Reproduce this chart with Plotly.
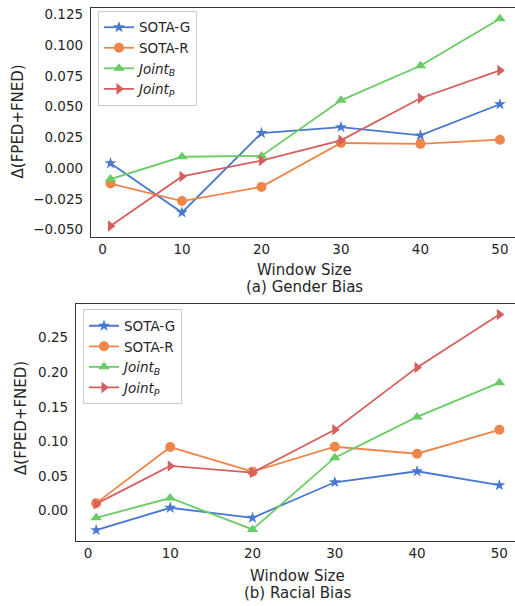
import plotly.graph_objects as go

window = [1, 10, 20, 30, 40, 50]
series_names = ["SOTA-G", "SOTA-R", "<i>Joint<sub>B</sub></i>", "<i>Joint<sub>P</sub></i>"]

gender_sota_g = [0.004, -0.036, 0.0286, 0.0334, 0.0267, 0.052]
gender_sota_r = [-0.0125, -0.0267, -0.0152, 0.0205, 0.0198, 0.0232]
gender_joint_b = [-0.0088, 0.0093, 0.0100, 0.0552, 0.0833, 0.1216]
gender_joint_p = [-0.047, -0.0067, 0.0062, 0.0227, 0.0569, 0.0795]

racial_sota_g = [-0.0284, 0.0039, -0.0106, 0.0408, 0.0567, 0.0365]
racial_sota_r = [0.0106, 0.0918, 0.0562, 0.0922, 0.0821, 0.1167]
racial_joint_b = [-0.0106, 0.0180, -0.0274, 0.0764, 0.1354, 0.1849]
racial_joint_p = [0.0095, 0.0644, 0.0548, 0.1167, 0.2070, 0.2834]

gender_ticks = [-0.050, -0.025, 0.000, 0.025, 0.050, 0.075, 0.100, 0.125]
racial_ticks = [0.00, 0.05, 0.10, 0.15, 0.20, 0.25]
x_ticks = [0, 10, 20, 30, 40, 50]

colors = ["#4878d0", "#ee854a", "#6acc64", "#d65f5f"]
symbols = ["star", "circle", "triangle-up", "triangle-right"]
msizes = [9, 10, 10, 10]

W, H = 515, 606
FONT = "DejaVu Sans"

fig = go.Figure()

def add_series(data, xa, ya, leg):
    for i, ys in enumerate(data):
        fig.add_trace(go.Scatter(
            x=window, y=ys, mode="lines+markers", name=series_names[i],
            xaxis=xa, yaxis=ya, legend=leg,
            line=dict(color=colors[i], width=1.8),
            marker=dict(symbol=symbols[i], size=msizes[i], color=colors[i],
                        line=dict(width=0)),
        ))

add_series([gender_sota_g, gender_sota_r, gender_joint_b, gender_joint_p], "x", "y", "legend")
add_series([racial_sota_g, racial_sota_r, racial_joint_b, racial_joint_p], "x2", "y2", "legend2")

axis_common = dict(showgrid=False, zeroline=False, showline=True, linecolor="#333333",
                   linewidth=1.3, ticks="", tickfont=dict(family=FONT, size=13.5, color="#262626"))

fig.update_layout(
    width=W, height=H, plot_bgcolor="white", paper_bgcolor="white",
    margin=dict(l=0, r=0, t=0, b=0),
    font=dict(family=FONT, color="#262626"),
    xaxis=dict(domain=[91 / W, 1], anchor="y", range=[-1.45, 51.9],
               tickvals=x_ticks, mirror=True, **axis_common),
    yaxis=dict(domain=[1 - 236 / H, 1 - 6 / H], anchor="x", range=[-0.0558, 0.1303],
               tickvals=gender_ticks, tickformat=".3f", ticklabelstandoff=4, **axis_common),
    xaxis2=dict(domain=[76 / W, 1], anchor="y2", range=[-1.45, 51.9],
                tickvals=x_ticks, mirror=True, **axis_common),
    yaxis2=dict(domain=[1 - 541.7 / H, 1 - 304 / H], anchor="x2", range=[-0.0442, 0.298],
                tickvals=racial_ticks, tickformat=".2f", ticklabelstandoff=4, **axis_common),
    legend=dict(x=98 / W, y=1 - 9 / H, xanchor="left", yanchor="top",
                bgcolor="white", bordercolor="#cccccc", borderwidth=1,
                font=dict(family=FONT, size=13.5, color="#262626"), itemwidth=30),
    legend2=dict(x=83 / W, y=1 - 309 / H, xanchor="left", yanchor="top",
                 bgcolor="white", bordercolor="#cccccc", borderwidth=1,
                 font=dict(family=FONT, size=13.5, color="#262626"), itemwidth=30),
)

def ann(text, x, y, angle=0, size=15):
    fig.add_annotation(text=text, x=x / W, y=1 - y / H, xref="paper", yref="paper",
                       showarrow=False, textangle=angle, xanchor="center", yanchor="middle",
                       font=dict(family=FONT, size=size, color="#262626"))

ann("Δ(FPED+FNED)", 18, 120, angle=-90)
ann("Window Size", 304, 269)
ann("(a) Gender Bias", 304, 286)
ann("Δ(FPED+FNED)", 21, 418, angle=-90)
ann("Window Size", 297, 577)
ann("(b) Racial Bias", 297, 594)

fig.write_html("out.html", config={"displayModeBar": False},
               post_script="document.body.style.margin='0';document.body.style.overflow='hidden';")
